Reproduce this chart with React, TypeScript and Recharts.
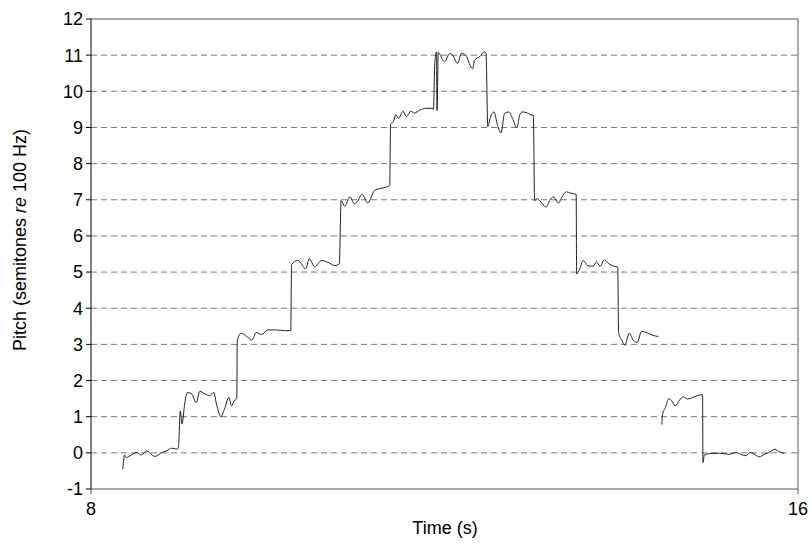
import { LineChart, Line, XAxis, YAxis, CartesianGrid, ReferenceLine, Label } from 'recharts';

// pitch track, time in seconds; null marks the unvoiced gap
const timeSec = [
  8.36, 8.38, 8.4, 8.44, 8.52, 8.57, 8.63, 8.72, 8.8, 8.86, 8.91, 8.975, 8.99,
  9.01, 9.03, 9.06, 9.09, 9.14, 9.19, 9.23, 9.29, 9.34, 9.39, 9.42, 9.47, 9.51, 9.56, 9.59, 9.62, 9.65,
  9.655, 9.7, 9.76, 9.82, 9.87, 9.93, 10.0, 10.1, 10.19, 10.26,
  10.27, 10.34, 10.43, 10.47, 10.53, 10.61, 10.68, 10.76, 10.81,
  10.83, 10.87, 10.93, 10.98, 11.01, 11.07, 11.13, 11.21, 11.27, 11.34, 11.38,
  11.39, 11.42, 11.45, 11.48, 11.53, 11.57, 11.62, 11.66, 11.72, 11.79, 11.87, 11.875,
  11.89, 11.91, 11.915, 11.93, 11.94, 12.0, 12.06, 12.09, 12.15, 12.19, 12.25, 12.28, 12.32, 12.34, 12.4, 12.45, 12.47,
  12.49, 12.52, 12.56, 12.6, 12.64, 12.68, 12.73, 12.77, 12.82, 12.85, 12.88, 12.94, 12.99, 13.005,
  13.02, 13.05, 13.09, 13.15, 13.19, 13.23, 13.29, 13.33, 13.38, 13.43, 13.49,
  13.495, 13.53, 13.57, 13.62, 13.68, 13.72, 13.76, 13.81, 13.86, 13.92, 13.96,
  13.97, 14.01, 14.04, 14.09, 14.14, 14.18, 14.23, 14.3, 14.37, 14.42,
  14.44,
  14.46, 14.465, 14.5, 14.54, 14.57, 14.61, 14.66, 14.7, 14.75, 14.81, 14.86, 14.92,
  14.925, 14.94, 15.0, 15.11, 15.22, 15.3, 15.35, 15.41, 15.46, 15.52, 15.56, 15.62, 15.67, 15.74, 15.78, 15.84,
];

const pitchSemitones = [
  -0.45, -0.06, -0.13, -0.08, 0.01, -0.06, 0.06, -0.1, 0.01, 0.06, 0.13, 0.1, 0.17,
  1.16, 0.8, 1.35, 1.67, 1.63, 1.39, 1.7, 1.63, 1.58, 1.67, 1.35, 1.0, 1.21, 1.53, 1.3, 1.44, 1.5,
  3.1, 3.31, 3.22, 3.12, 3.33, 3.27, 3.4, 3.4, 3.38, 3.38,
  5.21, 5.32, 5.09, 5.37, 5.15, 5.32, 5.27, 5.18, 5.23,
  6.98, 6.82, 7.08, 6.89, 6.94, 7.15, 6.91, 7.26, 7.31, 7.35, 7.4,
  9.1, 9.15, 9.35, 9.25, 9.45, 9.3, 9.45, 9.4, 9.48, 9.53, 9.53, 9.5,
  10.77, 11.09, 9.47, 11.08, 11.05, 10.82, 11.05, 11.0, 10.77, 11.05, 10.96, 10.77, 10.63, 10.86, 10.96, 11.09, 11.05,
  9.02, 9.29, 9.43, 9.06, 8.85, 9.39, 9.43, 9.25, 8.99, 9.34, 9.43, 9.4, 9.34, 9.34,
  6.98, 7.03, 6.94, 6.8, 6.98, 7.08, 6.91, 7.08, 7.22, 7.18, 7.15,
  4.95, 5.09, 5.32, 5.18, 5.16, 5.28, 5.16, 5.34, 5.23, 5.16, 5.14,
  3.33, 3.1, 2.98, 3.31, 3.1, 3.05, 3.36, 3.31, 3.24, 3.22,
  null,
  0.78, 1.03, 1.26, 1.5, 1.44, 1.3, 1.46, 1.55, 1.49, 1.53, 1.58, 1.61,
  -0.27, -0.06, -0.02, -0.01, -0.04, 0.01, -0.04, -0.08, 0.01, -0.06, -0.11, -0.04, 0.01, 0.1, 0.04, -0.01,
];

const xTicks = [8, 16];
const yTicks = [-1, 0, 1, 2, 3, 4, 5, 6, 7, 8, 9, 10, 11, 12];
const gridLevels = [0, 1, 2, 3, 4, 5, 6, 7, 8, 9, 10, 11];

const data = timeSec.map((t, i) => ({ t, pitch: pitchSemitones[i] }));

const font = 'Arial, "Liberation Sans", sans-serif';

const YTitle = () => (
  <text
    x={20}
    y={240}
    transform="rotate(-90, 20, 240)"
    textAnchor="middle"
    dominantBaseline="central"
    fontFamily={font}
    fontSize={18}
    fill="#000"
  >
    Pitch (semitones <tspan fontStyle="italic">re</tspan> 100 Hz)
  </text>
);

const XTitle = () => (
  <text x={445} y={534} textAnchor="middle" fontFamily={font} fontSize={18} fill="#000">
    Time (s)
  </text>
);

export default function App() {
  return (
    <div style={{ position: 'absolute', left: 0, top: 0, background: '#fff' }}>
      <LineChart
        width={811}
        height={545}
        data={data}
        margin={{ top: 19, right: 13, bottom: 26, left: 30 }}
      >
        <CartesianGrid
          vertical={false}
          horizontalValues={gridLevels}
          stroke="#777"
          strokeDasharray="6 4"
        />
        <XAxis
          dataKey="t"
          type="number"
          domain={[8, 16]}
          ticks={xTicks}
          height={30}
          tickSize={5}
          tickMargin={8}
          stroke="#555"
          tick={{ fill: '#000', fontSize: 18, fontFamily: font }}
          allowDataOverflow
        >
          <Label content={<XTitle />} />
        </XAxis>
        <YAxis
          type="number"
          domain={[-1, 12]}
          ticks={yTicks}
          interval={0}
          width={61}
          tickSize={5}
          tickMargin={3}
          stroke="#000"
          tick={{ fill: '#000', fontSize: 18, fontFamily: font }}
          allowDataOverflow
        >
          <Label content={<YTitle />} />
        </YAxis>
        <ReferenceLine y={12} stroke="#555" strokeWidth={1} />
        <ReferenceLine x={16} stroke="#555" strokeWidth={1} />
        <Line
          type="monotone"
          dataKey="pitch"
          stroke="#222"
          strokeWidth={1}
          dot={false}
          connectNulls={false}
          isAnimationActive={false}
        />
      </LineChart>
    </div>
  );
}
